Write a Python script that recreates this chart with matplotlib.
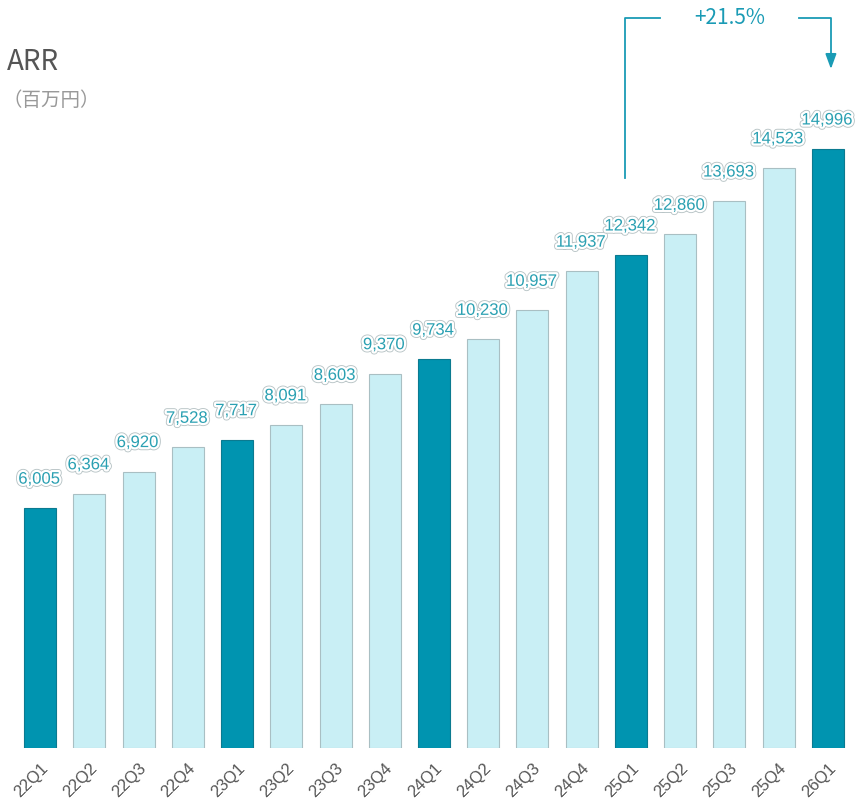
import matplotlib
matplotlib.use("Agg")
import matplotlib.pyplot as plt
import matplotlib.patheffects as pe

categories = ["22Q1", "22Q2", "22Q3", "22Q4", "23Q1", "23Q2", "23Q3", "23Q4",
              "24Q1", "24Q2", "24Q3", "24Q4", "25Q1", "25Q2", "25Q3", "25Q4", "26Q1"]
values = [6005, 6364, 6920, 7528, 7717, 8091, 8603, 9370,
          9734, 10230, 10957, 11937, 12342, 12860, 13693, 14523, 14996]
growth_label = "+21.5%"

DARK = "#0094b0"
LIGHT = "#c9eff5"
TEAL = "#1a9bb5"

W, H = 858, 801
fig = plt.figure(figsize=(W / 100, H / 100), dpi=100)
left_px, right_px = 15.4, 852.6
base_px = 748
ax = fig.add_axes([left_px / W, (H - base_px) / H, (right_px - left_px) / W, base_px / H])
px_per_unit = (748 - 149) / 14996
ax.set_xlim(-0.5, len(categories) - 0.5)
ax.set_ylim(0, base_px / px_per_unit)

colors = [DARK if c.endswith("Q1") else LIGHT for c in categories]
edges = ["#0b7a90" if c.endswith("Q1") else "#a9bfc3" for c in categories]
x = list(range(len(categories)))
ax.bar(x, values, width=0.65, color=colors, edgecolor=edges, linewidth=0.8, zorder=2)

label_off = 29 / px_per_unit
for xi, v in zip(x, values):
    ax.text(xi - 0.02, v + label_off, f"{v:,}", ha="center", va="center",
            fontsize=12, color="#2aa0b2", family=["Liberation Sans", "DejaVu Sans"],
            path_effects=[pe.withStroke(linewidth=4.5, foreground="#b8c4c6"),
                          pe.withStroke(linewidth=3.2, foreground="white")], zorder=3)

for s in ax.spines.values():
    s.set_visible(False)
ax.set_yticks([])
ax.set_xticks(x)
ax.set_xticklabels(categories, rotation=45, ha="right", va="top",
                   rotation_mode="anchor", fontsize=12, color="#555555",
                   family=["Liberation Sans", "DejaVu Sans"])
ax.tick_params(axis="x", length=0, pad=9)

# title
fig.text(7 / W, 1 - 62 / H, "ARR", fontsize=20, color="#555555",
         family=["Noto Sans CJK JP", "DejaVu Sans"], ha="left", va="center")
fig.text(2 / W, 1 - 100 / H, "（百万円）", fontsize=14, color="#999999",
         family=["Noto Sans CJK JP", "DejaVu Sans"], ha="left", va="center")

# growth bracket
i0 = categories.index("25Q1")
i1 = categories.index("26Q1")
top_y = (base_px - 18) / px_per_unit
start_y = values[i0] + 77 / px_per_unit
end_y = values[i1] + 80 / px_per_unit
x0 = i0 - 0.12
x1 = i1 + 0.06
xm = (x0 + x1) / 2 + 0.03
gap = 1.42
ax.plot([x0, x0, xm - gap], [start_y, top_y, top_y], color=TEAL, lw=1.3, clip_on=False)
ax.plot([xm + gap, x1, x1], [top_y, top_y, end_y + 300], color=TEAL, lw=1.3, clip_on=False)
ax.annotate("", xy=(x1, end_y), xytext=(x1, end_y + 320),
            arrowprops=dict(arrowstyle="-|>,head_length=0.6,head_width=0.22", color=TEAL, lw=1.3,
                            mutation_scale=15, shrinkA=0, shrinkB=0),
            annotation_clip=False)
ax.text(xm, top_y, growth_label, ha="center", va="center", fontsize=15,
        color=TEAL, family=["Noto Sans CJK JP", "DejaVu Sans"])

fig.savefig("out.png", dpi=100)
